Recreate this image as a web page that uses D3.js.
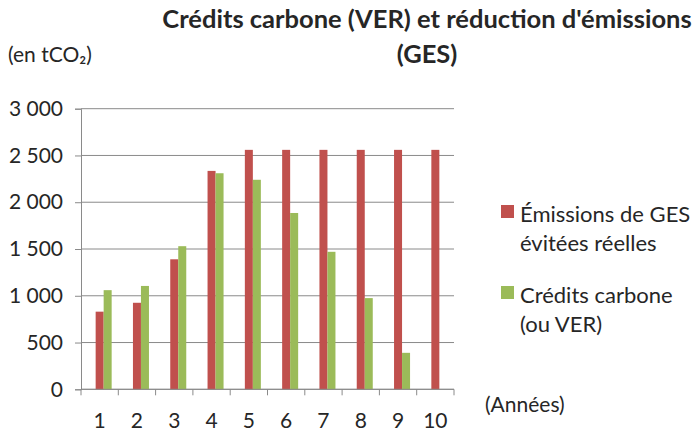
<!DOCTYPE html>
<html>
<head>
<meta charset="utf-8">
<script src="https://cdn.jsdelivr.net/npm/d3@7"></script>
<style>
  body { margin: 0; background: #fff; }
  text { font-family: Lato, "Open Sans", sans-serif; fill: #262626; }
</style>
</head>
<body>
<div id="container"></div>
<script>
/* DATA */
const years = ["1", "2", "3", "4", "5", "6", "7", "8", "9", "10"];
const emissionsEvitees = [830, 925, 1390, 2335, 2560, 2560, 2560, 2560, 2560, 2560];
const creditsCarbone = [1060, 1105, 1530, 2310, 2240, 1885, 1470, 975, 390, 0];
const yTicks = [0, 500, 1000, 1500, 2000, 2500, 3000];
const seriesNames = ["Émissions de GES|évitées réelles", "Crédits carbone|(ou VER)"];

/* CONSTANTS */
const width = 699, height = 432;
const margin = { top: 108.7, bottom: 432 - 389.3, left: 81, right: 699 - 454 };
const colors = ["#C0504D", "#9BBB59"];
const fontSize = 21;

const svg = d3.select("#container")
  .append("svg")
  .attr("width", width)
  .attr("height", height);

// SCALES
const x = d3.scaleBand()
  .domain(years)
  .range([margin.left, width - margin.right])
  .padding(0);

// three slots per year, first one is an empty series
const xInner = d3.scaleBand()
  .domain(["none", "ges", "ver"])
  .range([0, x.bandwidth()])
  .paddingInner(0)
  .paddingOuter(0.83);

const y = d3.scaleLinear()
  .domain([0, 3000])
  .range([height - margin.bottom, margin.top]);

// GRIDLINES
svg.append("g")
  .selectAll("line")
  .data(yTicks)
  .join("line")
  .attr("x1", margin.left)
  .attr("x2", width - margin.right)
  .attr("y1", d => y(d))
  .attr("y2", d => y(d))
  .attr("stroke", "#8a8a8a")
  .attr("stroke-width", 1);

// Y AXIS
const yAxis = svg.append("g")
  .attr("transform", `translate(${margin.left},0)`)
  .call(d3.axisLeft(y).tickValues(yTicks).tickSize(6).tickPadding(12)
    .tickFormat(d => d3.format(",")(d).replace(",", " ")));
yAxis.select(".domain").attr("stroke", "#8a8a8a");
yAxis.selectAll(".tick line").attr("stroke", "#8a8a8a");
yAxis.selectAll("text")
  .attr("font-size", fontSize)
  .attr("fill", "#262626")
  .style("font-family", "Lato, 'Open Sans', sans-serif");

// BARS
const data = years.map((yr, i) => ({ year: yr, ges: emissionsEvitees[i], ver: creditsCarbone[i] }));

const groups = svg.append("g")
  .selectAll("g")
  .data(data)
  .join("g")
  .attr("transform", d => `translate(${x(d.year)},0)`);

groups.selectAll("rect")
  .data(d => [
    { key: "ges", value: d.ges, color: colors[0] },
    { key: "ver", value: d.ver, color: colors[1] }
  ])
  .join("rect")
  .attr("x", d => xInner(d.key))
  .attr("width", xInner.bandwidth())
  .attr("y", d => y(d.value))
  .attr("height", d => y(0) - y(d.value))
  .attr("fill", d => d.color);

// X AXIS
const xAxisG = svg.append("g")
  .attr("transform", `translate(0,${y(0)})`);
xAxisG.append("line")
  .attr("x1", margin.left)
  .attr("x2", width - margin.right)
  .attr("stroke", "#8a8a8a");
const boundaries = years.map(d => x(d)).concat([x(years[years.length - 1]) + x.bandwidth()]);
xAxisG.selectAll("line.tick")
  .data(boundaries)
  .join("line")
  .attr("class", "tick")
  .attr("x1", d => d).attr("x2", d => d)
  .attr("y1", 0).attr("y2", 6)
  .attr("stroke", "#8a8a8a");
xAxisG.selectAll("text")
  .data(years)
  .join("text")
  .attr("x", d => x(d) + x.bandwidth() / 2)
  .attr("y", 39)
  .attr("text-anchor", "middle")
  .attr("font-size", fontSize)
  .text(d => d);

// TITLE
const title = svg.append("text")
  .attr("x", 427)
  .attr("y", 28)
  .attr("text-anchor", "middle")
  .attr("font-size", 25.5)
  .attr("font-weight", "bold");
title.append("tspan").attr("x", 427).text("Crédits carbone (VER) et réduction d'émissions");
title.append("tspan").attr("x", 427).attr("dy", 35).text("(GES)");

svg.append("text")
  .attr("x", 8)
  .attr("y", 62)
  .attr("font-size", fontSize)
  .text("(en tCO₂)");

svg.append("text")
  .attr("x", 485)
  .attr("y", 412)
  .attr("font-size", fontSize)
  .text("(Années)");

// LEGEND
const legend = svg.append("g")
  .selectAll("g")
  .data(seriesNames)
  .join("g")
  .attr("transform", (d, i) => `translate(501,${205 + i * 81})`);

legend.append("rect")
  .attr("width", 13)
  .attr("height", 13)
  .attr("fill", (d, i) => colors[i]);

legend.append("text")
  .attr("font-size", 22)
  .selectAll("tspan")
  .data(d => d.split("|"))
  .join("tspan")
  .attr("x", 19)
  .attr("y", (d, i) => 17 + i * 29)
  .text(d => d);
</script>
</body>
</html>
